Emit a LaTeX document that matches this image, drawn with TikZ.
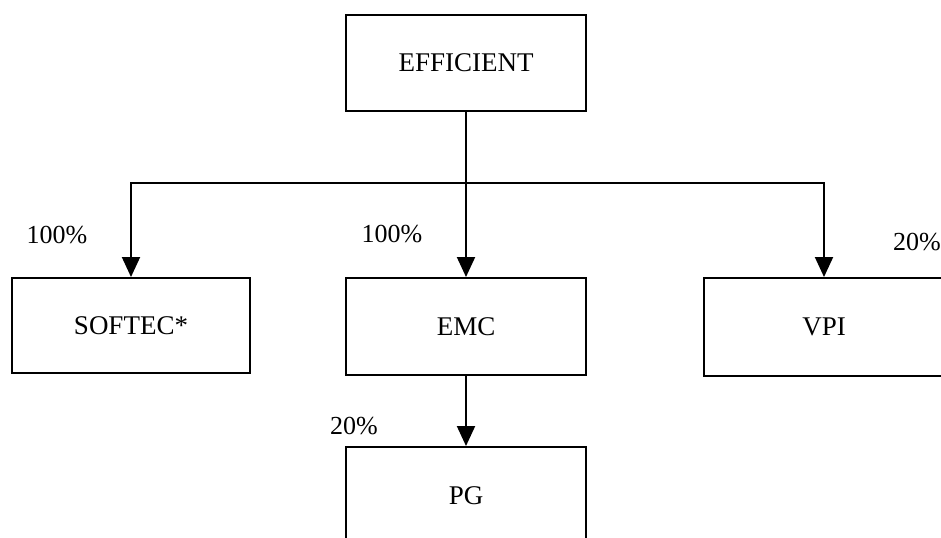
\documentclass[tikz,border=0pt]{standalone}
\usepackage{fontspec}
\setmainfont{Liberation Serif}
\usetikzlibrary{arrows.meta}
\begin{document}
\begin{tikzpicture}[x=0.5pt,y=-0.5pt,
  box/.style={draw,line width=1pt,minimum width=120pt,minimum height=48pt,inner sep=0pt,font=\fontsize{13.5pt}{16pt}\selectfont},
  pct/.style={inner sep=0pt,font=\fontsize{13pt}{15pt}\selectfont},
  conn/.style={line width=1pt},
  arr/.style={conn,-{Triangle[width=9pt,length=10pt]}}]
\useasboundingbox (0,0) rectangle (941,537);
\clip (0,0) rectangle (941,537);
\node[box] (eff) at (466,63) {EFFICIENT};
\node[box,minimum width=119pt,minimum height=47.5pt] (softec) at (131,325.5) {SOFTEC*};
\node[box,minimum height=48.5pt] (emc) at (466,326.5) {EMC};
\node[box,minimum height=49pt] (vpi) at (824,327) {VPI};
\node[box,minimum height=48.5pt] (pg) at (466,495.5) {PG};
\coordinate (j) at (466,183);
\draw[conn] (eff.south) -- (j);
\draw[arr] (j) -| (softec.north);
\draw[arr] (j) -| (vpi.north);
\draw[arr] (j) -- (emc.north);
\draw[arr] (emc.south) -- (pg.north);
\node[pct] (l1) at (57,235) {100\%};
\node[pct] (l2) at (392,234) {100\%};
\node[pct] (l3) at (917,242) {20\%};
\node[pct] (l4) at (354,426) {20\%};
\end{tikzpicture}
\end{document}
